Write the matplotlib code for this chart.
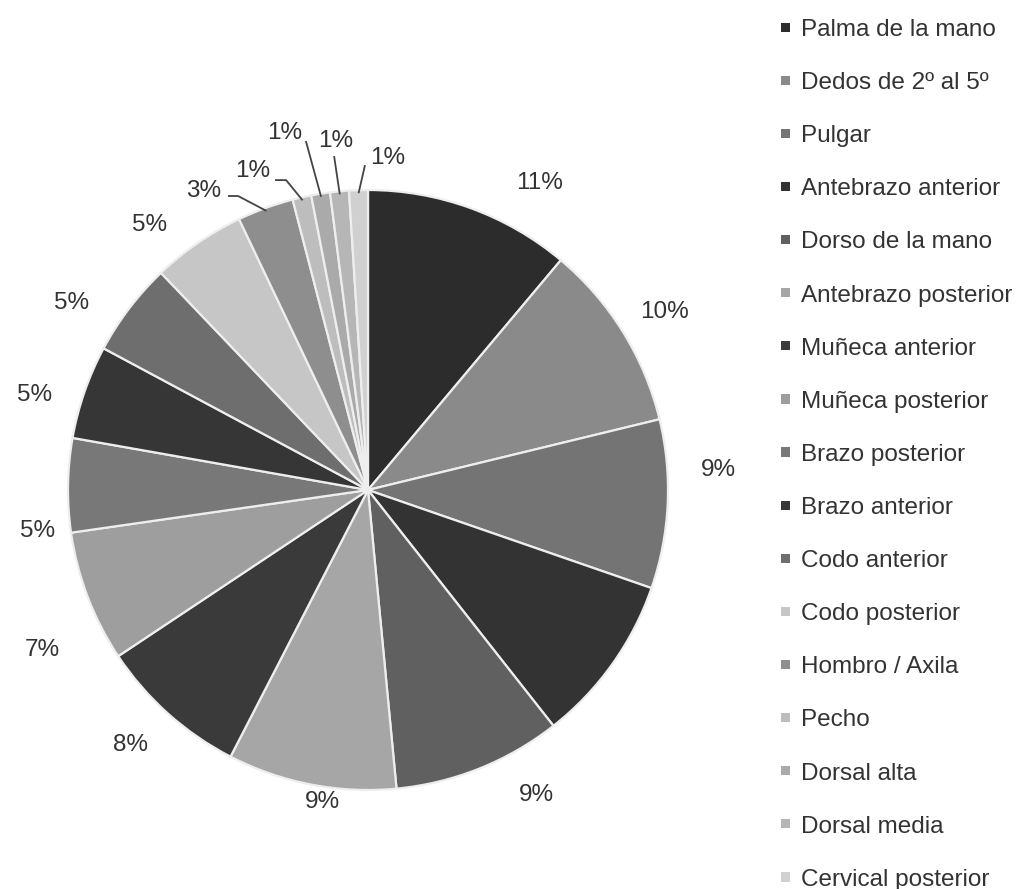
import numpy as np
import matplotlib
matplotlib.use("Agg")
import matplotlib.pyplot as plt
from matplotlib.patches import Patch

plt.rcParams["font.family"] = ["Liberation Sans", "DejaVu Sans"]

# Localisation of injuries (percent of cases)
categories = [
    "Palma de la mano", "Dedos de 2º al 5º", "Pulgar", "Antebrazo anterior",
    "Dorso de la mano", "Antebrazo posterior", "Muñeca anterior",
    "Muñeca posterior", "Brazo posterior", "Brazo anterior", "Codo anterior",
    "Codo posterior", "Hombro / Axila", "Pecho", "Dorsal alta",
    "Dorsal media", "Cervical posterior",
]
percent = [11, 10, 9, 9, 9, 9, 8, 7, 5, 5, 5, 5, 3, 1, 1, 1, 1]

colors = [
    "#2c2c2c", "#8a8a8a", "#747474", "#333333", "#606060", "#a6a6a6",
    "#3a3a3a", "#9e9e9e", "#787878", "#363636", "#6e6e6e", "#c6c6c6",
    "#8e8e8e", "#bdbdbd", "#aaaaaa", "#b6b6b6", "#d0d0d0",
]

# label text positions (pie radius = 1) for slices labelled beside the pie
label_pos = {
    0: (0.573, 1.023), 1: (0.990, 0.593), 2: (1.167, 0.067),
    4: (0.560, -1.017), 5: (-0.153, -1.040), 6: (-0.793, -0.850),
    7: (-1.087, -0.533), 8: (-1.100, -0.137), 9: (-1.110, 0.317),
    10: (-0.987, 0.623), 11: (-0.727, 0.883),
}
# small slices labelled with leader lines: text position and path to the slice
leader_labels = {
    12: ((-0.547, 0.997), [(-0.467, 0.980), (-0.433, 0.980)]),
    13: ((-0.383, 1.063), [(-0.310, 1.033), (-0.273, 1.033)]),
    14: ((-0.277, 1.190), [(-0.207, 1.163)]),
    15: ((-0.107, 1.163), [(-0.113, 1.113)]),
    16: ((0.067, 1.107), [(-0.010, 1.083)]),
}

TXT = "#333333"
FS = 17.5

fig = plt.figure(figsize=(10.2, 8.89), dpi=100)
ax = fig.add_axes([0, 0, 1, 1])

wedges, _ = ax.pie(
    percent, colors=colors, startangle=90, counterclock=False, radius=1.0,
    wedgeprops=dict(edgecolor="#eeeeee", linewidth=1.6),
)

for i, w in enumerate(wedges):
    mid = np.deg2rad((w.theta1 + w.theta2) / 2)
    txt = f"{percent[i]}%"
    if i in label_pos:
        tx, ty = label_pos[i]
        ax.text(tx, ty, txt, ha="center", va="center", fontsize=FS, color=TXT)
    elif i in leader_labels:
        (tx, ty), path = leader_labels[i]
        ax.text(tx, ty, txt, ha="center", va="center", fontsize=FS, color=TXT)
        pts = path + [(0.99 * np.cos(mid), 0.99 * np.sin(mid))]
        xs, ys = zip(*pts)
        ax.plot(xs, ys, color="#444444", lw=1.3, solid_capstyle="butt")

ax.set_xlim(-368 / 300, 652 / 300)
ax.set_ylim(-399 / 300, 490 / 300)
ax.set_aspect("auto")
ax.axis("off")

handles = [Patch(facecolor=c, edgecolor="none") for c in colors]
ax.legend(
    handles, categories, loc="upper left",
    bbox_to_anchor=(781 / 1020, 1 - 19 / 889), bbox_transform=fig.transFigure,
    frameon=False, fontsize=FS, labelcolor=TXT,
    handlelength=0.37, handleheight=0.21, handletextpad=0.45,
    labelspacing=1.28, borderpad=0, borderaxespad=0,
)

fig.savefig("out.png", dpi=100, facecolor="white")
